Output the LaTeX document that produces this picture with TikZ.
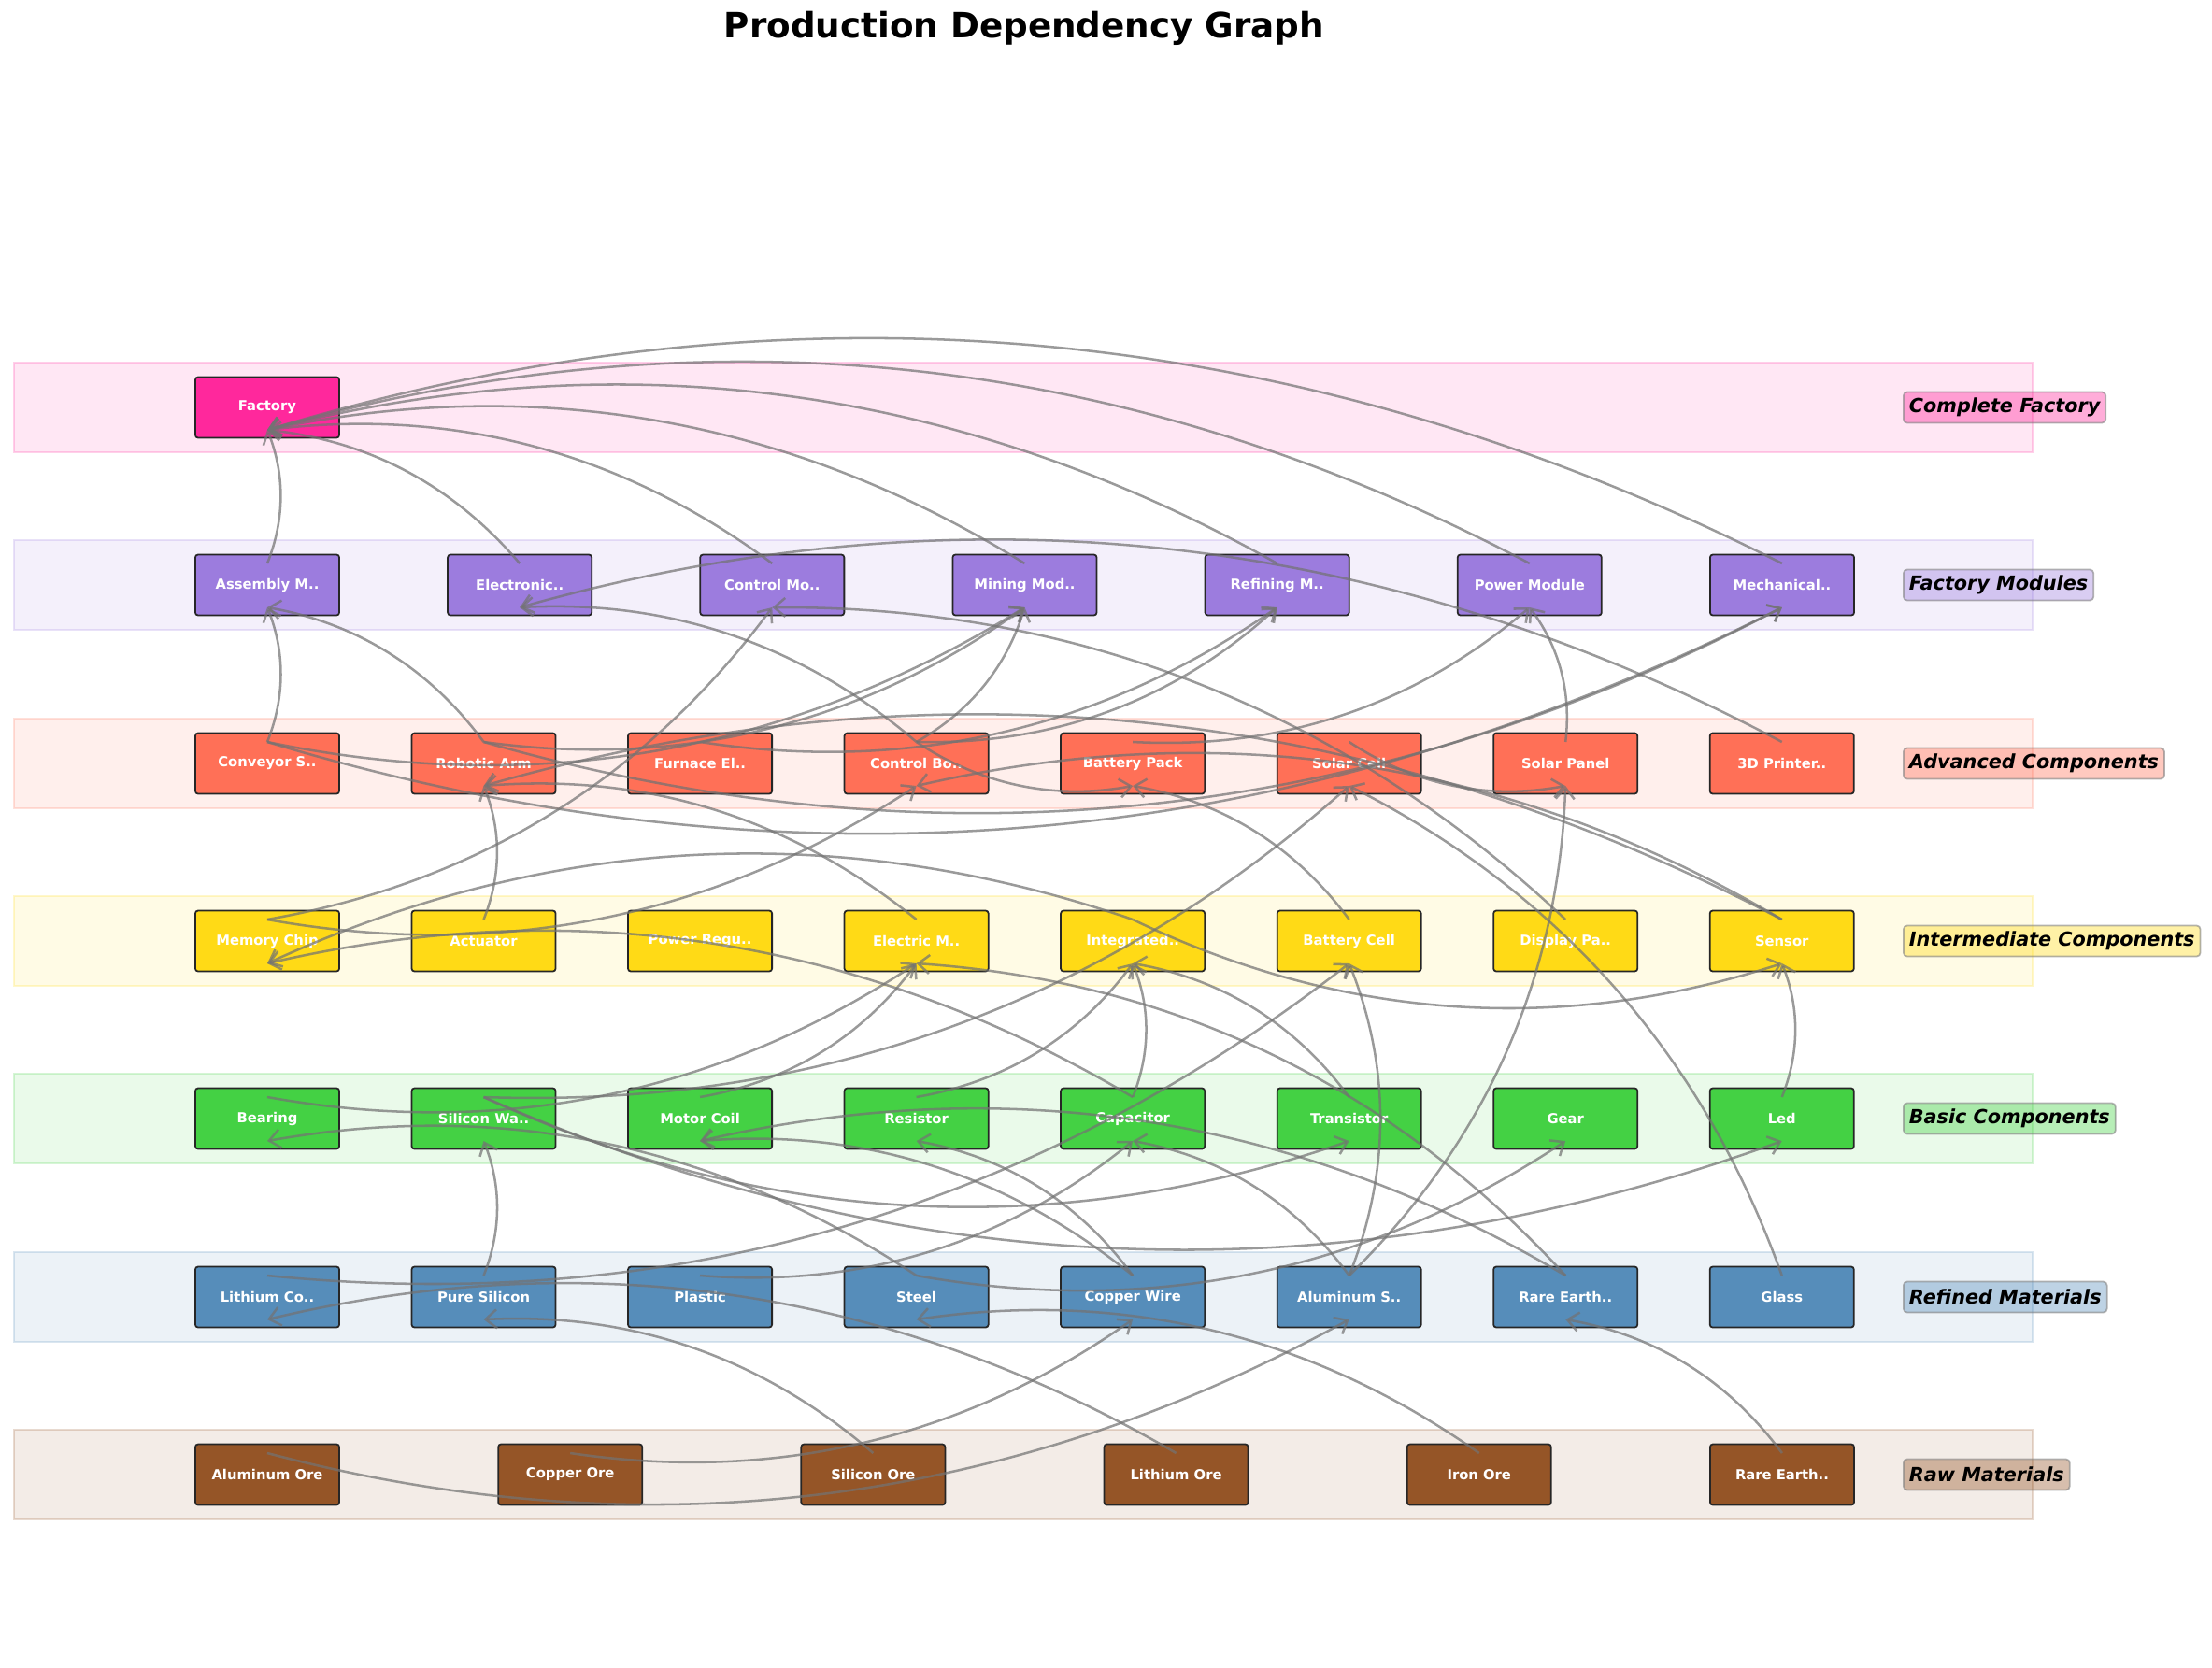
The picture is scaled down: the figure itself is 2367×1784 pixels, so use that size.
\documentclass[tikz,border=0pt]{standalone}
\usepackage{fontspec}
\setmainfont{DejaVu Sans}[BoldFont={DejaVu Sans Bold}, ItalicFont={DejaVu Sans Oblique}, BoldItalicFont={DejaVu Sans Bold Oblique}]
\usepackage{tikz}
\usetikzlibrary{arrows.meta, positioning}

\definecolor{factorypink}{HTML}{FF1493}
\definecolor{modulepurple}{HTML}{9370DB}
\definecolor{advancedred}{HTML}{FF6347}
\definecolor{intergold}{HTML}{FFD700}
\definecolor{basicgreen}{HTML}{32CD32}
\definecolor{refinedblue}{HTML}{4682B4}
\definecolor{rawbrown}{HTML}{8B4513}

\begin{document}
\begin{tikzpicture}[x=0.01cm, y=-0.01cm,
  item/.style={rectangle, draw=black!85, line width=0.5pt, outer sep=0pt, rounded corners=0.3mm, minimum width=1.54cm, minimum height=0.65cm, inner sep=0pt, text=white, fill opacity=0.9, text opacity=1, font=\bfseries\fontsize{4.2}{5}\selectfont},
  band/.style={line width=0.4pt, draw opacity=0.2, fill opacity=0.1},
  layerlabel/.style={anchor=west, rounded corners=0.4mm, draw=gray, draw opacity=0.6, line width=0.5pt, fill opacity=0.35, text opacity=1, minimum height=0.33cm, inner xsep=0.6mm, inner ysep=0pt, font=\bfseries\itshape\fontsize{5.9}{7}\selectfont},
  dep/.style={draw=black!55, draw opacity=0.72, line width=0.72pt, -{Straight Barb[length=1.2mm, width=2mm]}, bend right=21.8, looseness=0.917}
]
\useasboundingbox (0,0) rectangle (2367,1784);

\node[font=\bfseries\fontsize{10.6}{12}\selectfont] (title) at (1096,30) {Production Dependency Graph};

\draw[band, draw=factorypink, fill=factorypink] (15,388) rectangle (2175,484);
\draw[band, draw=modulepurple, fill=modulepurple] (15,578) rectangle (2175,674);
\draw[band, draw=advancedred, fill=advancedred] (15,769) rectangle (2175,865);
\draw[band, draw=intergold, fill=intergold] (15,959) rectangle (2175,1055);
\draw[band, draw=basicgreen, fill=basicgreen] (15,1149) rectangle (2175,1245);
\draw[band, draw=refinedblue, fill=refinedblue] (15,1340) rectangle (2175,1436);
\draw[band, draw=rawbrown, fill=rawbrown] (15,1530) rectangle (2175,1626);

\node[layerlabel, fill=factorypink] (lblfactory) at (2036,436) {Complete Factory};
\node[layerlabel, fill=modulepurple] (lblmodules) at (2036,626) {Factory Modules};
\node[layerlabel, fill=advancedred] (lbladvanced) at (2036,817) {Advanced Components};
\node[layerlabel, fill=intergold] (lblinter) at (2036,1007) {Intermediate Components};
\node[layerlabel, fill=basicgreen] (lblbasic) at (2036,1197) {Basic Components};
\node[layerlabel, fill=refinedblue] (lblrefined) at (2036,1388) {Refined Materials};
\node[layerlabel, fill=rawbrown] (lblraw) at (2036,1578) {Raw Materials};

\node[item, fill=factorypink] (factory) at (286,436) {Factory};

\node[item, fill=modulepurple] (assembly) at (286,626) {Assembly M..};
\node[item, fill=modulepurple, right=1.16cm of assembly] (electronic) {Electronic..};
\node[item, fill=modulepurple, right=1.16cm of electronic] (controlmod) {Control Mo..};
\node[item, fill=modulepurple, right=1.16cm of controlmod] (mining) {Mining Mod..};
\node[item, fill=modulepurple, right=1.16cm of mining] (refining) {Refining M..};
\node[item, fill=modulepurple, right=1.16cm of refining] (power) {Power Module};
\node[item, fill=modulepurple, right=1.16cm of power] (mechanical) {Mechanical..};

\node[item, fill=advancedred] (conveyor) at (286,817) {Conveyor S..};
\node[item, fill=advancedred, right=0.774cm of conveyor] (roboticarm) {Robotic Arm};
\node[item, fill=advancedred, right=0.774cm of roboticarm] (furnace) {Furnace El..};
\node[item, fill=advancedred, right=0.774cm of furnace] (controlboard) {Control Bo..};
\node[item, fill=advancedred, right=0.774cm of controlboard] (batterypack) {Battery Pack};
\node[item, fill=advancedred, right=0.774cm of batterypack] (solarcell) {Solar Cell};
\node[item, fill=advancedred, right=0.774cm of solarcell] (solarpanel) {Solar Panel};
\node[item, fill=advancedred, right=0.774cm of solarpanel] (printer) {3D Printer..};

\node[item, fill=intergold] (memorychip) at (286,1007) {Memory Chip};
\node[item, fill=intergold, right=0.774cm of memorychip] (actuator) {Actuator};
\node[item, fill=intergold, right=0.774cm of actuator] (powerreg) {Power Regu..};
\node[item, fill=intergold, right=0.774cm of powerreg] (electricmotor) {Electric M..};
\node[item, fill=intergold, right=0.774cm of electricmotor] (integrated) {Integrated..};
\node[item, fill=intergold, right=0.774cm of integrated] (batterycell) {Battery Cell};
\node[item, fill=intergold, right=0.774cm of batterycell] (display) {Display Pa..};
\node[item, fill=intergold, right=0.774cm of display] (sensor) {Sensor};

\node[item, fill=basicgreen] (bearing) at (286,1197) {Bearing};
\node[item, fill=basicgreen, right=0.774cm of bearing] (siliconwafer) {Silicon Wa..};
\node[item, fill=basicgreen, right=0.774cm of siliconwafer] (motorcoil) {Motor Coil};
\node[item, fill=basicgreen, right=0.774cm of motorcoil] (resistor) {Resistor};
\node[item, fill=basicgreen, right=0.774cm of resistor] (capacitor) {Capacitor};
\node[item, fill=basicgreen, right=0.774cm of capacitor] (transistor) {Transistor};
\node[item, fill=basicgreen, right=0.774cm of transistor] (gear) {Gear};
\node[item, fill=basicgreen, right=0.774cm of gear] (led) {Led};

\node[item, fill=refinedblue] (lithiumco) at (286,1388) {Lithium Co..};
\node[item, fill=refinedblue, right=0.774cm of lithiumco] (puresilicon) {Pure Silicon};
\node[item, fill=refinedblue, right=0.774cm of puresilicon] (plastic) {Plastic};
\node[item, fill=refinedblue, right=0.774cm of plastic] (steel) {Steel};
\node[item, fill=refinedblue, right=0.774cm of steel] (copperwire) {Copper Wire};
\node[item, fill=refinedblue, right=0.774cm of copperwire] (aluminumsheet) {Aluminum S..};
\node[item, fill=refinedblue, right=0.774cm of aluminumsheet] (rareearth) {Rare Earth..};
\node[item, fill=refinedblue, right=0.774cm of rareearth] (glass) {Glass};

\node[item, fill=rawbrown] (aluminumore) at (286,1578) {Aluminum Ore};
\node[item, fill=rawbrown, right=1.7cm of aluminumore] (copperore) {Copper Ore};
\node[item, fill=rawbrown, right=1.7cm of copperore] (siliconore) {Silicon Ore};
\node[item, fill=rawbrown, right=1.7cm of siliconore] (lithiumore) {Lithium Ore};
\node[item, fill=rawbrown, right=1.7cm of lithiumore] (ironore) {Iron Ore};
\node[item, fill=rawbrown, right=1.7cm of ironore] (rareearthore) {Rare Earth..};

\draw[dep] ([yshift=2.3mm]assembly.center) to ([yshift=-2.4mm]factory.center);
\draw[dep] ([yshift=2.3mm]electronic.center) to ([yshift=-2.4mm]factory.center);
\draw[dep] ([yshift=2.3mm]controlmod.center) to ([yshift=-2.4mm]factory.center);
\draw[dep] ([yshift=2.3mm]mining.center) to ([yshift=-2.4mm]factory.center);
\draw[dep] ([yshift=2.3mm]refining.center) to ([yshift=-2.4mm]factory.center);
\draw[dep] ([yshift=2.3mm]power.center) to ([yshift=-2.4mm]factory.center);
\draw[dep] ([yshift=2.3mm]mechanical.center) to ([yshift=-2.4mm]factory.center);

\draw[dep] ([yshift=2.3mm]conveyor.center) to ([yshift=-2.4mm]assembly.center);
\draw[dep] ([yshift=2.3mm]roboticarm.center) to ([yshift=-2.4mm]assembly.center);
\draw[dep] ([yshift=2.3mm]controlboard.center) to ([yshift=-2.4mm]electronic.center);
\draw[dep] ([yshift=2.3mm]printer.center) to ([yshift=-2.4mm]electronic.center);
\draw[dep] ([yshift=2.3mm]memorychip.center) to ([yshift=-2.4mm]controlmod.center);
\draw[dep] ([yshift=2.3mm]display.center) to ([yshift=-2.4mm]controlmod.center);
\draw[dep] ([yshift=2.3mm]conveyor.center) to ([yshift=-2.4mm]mining.center);
\draw[dep] ([yshift=2.3mm]roboticarm.center) to ([yshift=-2.4mm]mining.center);
\draw[dep] ([yshift=2.3mm]controlboard.center) to ([yshift=-2.4mm]mining.center);
\draw[dep] ([yshift=2.3mm]furnace.center) to ([yshift=-2.4mm]refining.center);
\draw[dep] ([yshift=2.3mm]controlboard.center) to ([yshift=-2.4mm]refining.center);
\draw[dep] ([yshift=2.3mm]batterypack.center) to ([yshift=-2.4mm]power.center);
\draw[dep] ([yshift=2.3mm]solarpanel.center) to ([yshift=-2.4mm]power.center);
\draw[dep] ([yshift=2.3mm]conveyor.center) to ([yshift=-2.4mm]mechanical.center);
\draw[dep] ([yshift=2.3mm]roboticarm.center) to ([yshift=-2.4mm]mechanical.center);

\draw[dep] ([yshift=2.3mm]actuator.center) to ([yshift=-2.4mm]roboticarm.center);
\draw[dep] ([yshift=2.3mm]electricmotor.center) to ([yshift=-2.4mm]roboticarm.center);
\draw[dep] ([yshift=2.3mm]sensor.center) to ([yshift=-2.4mm]roboticarm.center);
\draw[dep] ([yshift=2.3mm]memorychip.center) to ([yshift=-2.4mm]controlboard.center);
\draw[dep] ([yshift=2.3mm]sensor.center) to ([yshift=-2.4mm]controlboard.center);
\draw[dep] ([yshift=2.3mm]controlboard.center) to ([yshift=-2.4mm]batterypack.center);
\draw[dep] ([yshift=2.3mm]batterycell.center) to ([yshift=-2.4mm]batterypack.center);
\draw[dep] ([yshift=2.3mm]siliconwafer.center) to ([yshift=-2.4mm]solarcell.center);
\draw[dep] ([yshift=2.3mm]glass.center) to ([yshift=-2.4mm]solarcell.center);
\draw[dep] ([yshift=2.3mm]solarcell.center) to ([yshift=-2.4mm]solarpanel.center);
\draw[dep] ([yshift=2.3mm]aluminumsheet.center) to ([yshift=-2.4mm]solarpanel.center);

\draw[dep] ([yshift=2.3mm]integrated.center) to ([yshift=-2.4mm]memorychip.center);
\draw[dep] ([yshift=2.3mm]capacitor.center) to ([yshift=-2.4mm]memorychip.center);
\draw[dep] ([yshift=2.3mm]bearing.center) to ([yshift=-2.4mm]electricmotor.center);
\draw[dep] ([yshift=2.3mm]motorcoil.center) to ([yshift=-2.4mm]electricmotor.center);
\draw[dep] ([yshift=2.3mm]rareearth.center) to ([yshift=-2.4mm]electricmotor.center);
\draw[dep] ([yshift=2.3mm]resistor.center) to ([yshift=-2.4mm]integrated.center);
\draw[dep] ([yshift=2.3mm]capacitor.center) to ([yshift=-2.4mm]integrated.center);
\draw[dep] ([yshift=2.3mm]transistor.center) to ([yshift=-2.4mm]integrated.center);
\draw[dep] ([yshift=2.3mm]lithiumco.center) to ([yshift=-2.4mm]batterycell.center);
\draw[dep] ([yshift=2.3mm]aluminumsheet.center) to ([yshift=-2.4mm]batterycell.center);
\draw[dep] ([yshift=2.3mm]integrated.center) to ([yshift=-2.4mm]sensor.center);
\draw[dep] ([yshift=2.3mm]led.center) to ([yshift=-2.4mm]sensor.center);

\draw[dep] ([yshift=2.3mm]steel.center) to ([yshift=-2.4mm]bearing.center);
\draw[dep] ([yshift=2.3mm]puresilicon.center) to ([yshift=-2.4mm]siliconwafer.center);
\draw[dep] ([yshift=2.3mm]copperwire.center) to ([yshift=-2.4mm]motorcoil.center);
\draw[dep] ([yshift=2.3mm]rareearth.center) to ([yshift=-2.4mm]motorcoil.center);
\draw[dep] ([yshift=2.3mm]copperwire.center) to ([yshift=-2.4mm]resistor.center);
\draw[dep] ([yshift=2.3mm]plastic.center) to ([yshift=-2.4mm]capacitor.center);
\draw[dep] ([yshift=2.3mm]aluminumsheet.center) to ([yshift=-2.4mm]capacitor.center);
\draw[dep] ([yshift=2.3mm]siliconwafer.center) to ([yshift=-2.4mm]transistor.center);
\draw[dep] ([yshift=2.3mm]steel.center) to ([yshift=-2.4mm]gear.center);
\draw[dep] ([yshift=2.3mm]siliconwafer.center) to ([yshift=-2.4mm]led.center);

\draw[dep] ([yshift=2.3mm]lithiumore.center) to ([yshift=-2.4mm]lithiumco.center);
\draw[dep] ([yshift=2.3mm]siliconore.center) to ([yshift=-2.4mm]puresilicon.center);
\draw[dep] ([yshift=2.3mm]ironore.center) to ([yshift=-2.4mm]steel.center);
\draw[dep] ([yshift=2.3mm]copperore.center) to ([yshift=-2.4mm]copperwire.center);
\draw[dep] ([yshift=2.3mm]aluminumore.center) to ([yshift=-2.4mm]aluminumsheet.center);
\draw[dep] ([yshift=2.3mm]rareearthore.center) to ([yshift=-2.4mm]rareearth.center);
\end{tikzpicture}
\end{document}
